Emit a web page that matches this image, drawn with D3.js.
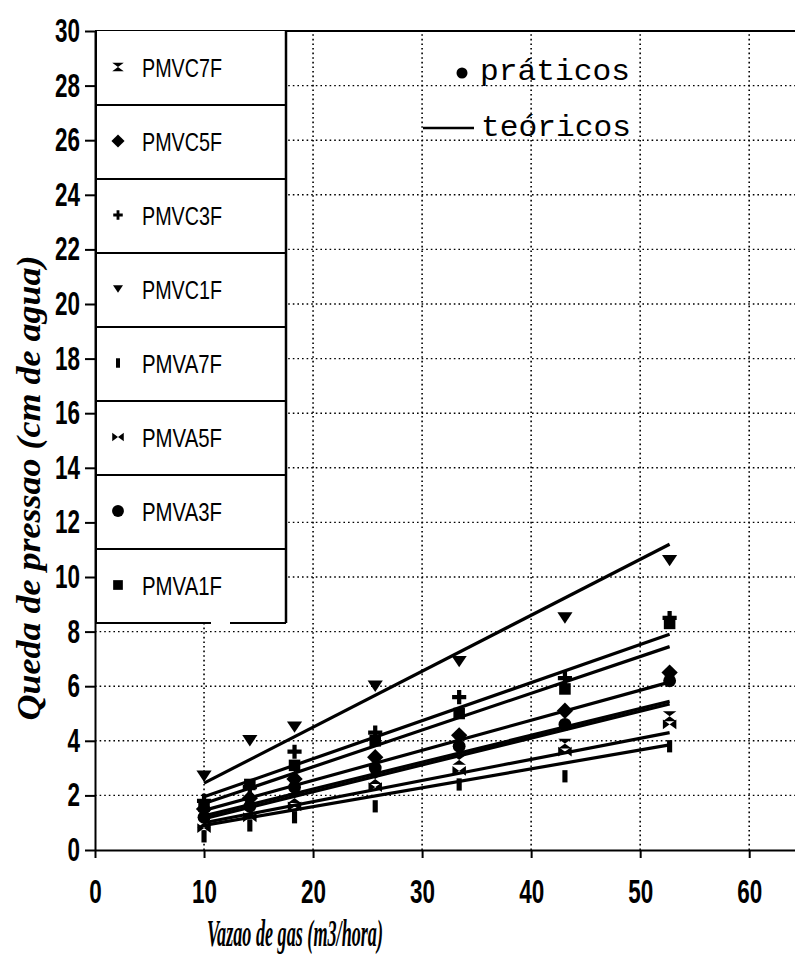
<!DOCTYPE html>
<html>
<head>
<meta charset="utf-8">
<script src="https://cdn.jsdelivr.net/npm/d3@7"></script>
<style>
  body { margin: 0; background: #fff; }
  svg { display: block; }
</style>
</head>
<body>
<div id="chart-area"></div>
<script>
var w = 795;
var h = 955;

// vazao de gas (m3/hora) dos pontos medidos
const flow = [10, 14.2, 18.3, 25.7, 33.4, 43.1, 52.7];

const names = ["PMVC7F", "PMVC5F", "PMVC3F", "PMVC1F", "PMVA7F", "PMVA5F", "PMVA3F", "PMVA1F"];

// valores praticos (cm de agua)
const pmvc7f = [1.0, 1.4, 1.9, 2.6, 3.3, 3.9, 4.9];
const pmvc5f = [1.5, 1.9, 2.6, 3.4, 4.2, 5.1, 6.5];
const pmvc3f = [1.8, 2.3, 3.6, 4.3, 5.6, 6.3, 8.5];
const pmvc1f = [2.7, 4.0, 4.5, 6.0, 6.9, 8.5, 10.6];
const pmva7f = [0.5, 0.9, 1.2, 1.6, 2.4, 2.7, 3.8];
const pmva5f = [0.8, 1.2, 1.6, 2.3, 2.9, 3.6, 4.6];
const pmva3f = [1.2, 1.6, 2.3, 3.0, 3.8, 4.6, 6.2];
const pmva1f = [1.6, 2.4, 3.1, 4.0, 5.0, 5.9, 8.3];

// valores teoricos no inicio e no fim da reta
const teoFlow = [10, 52.7];
const teoStart = [1.15, 1.45, 1.95, 2.45, 0.9, 1.0, 1.25, 1.7];
const teoEnd   = [5.35, 6.15, 7.9, 11.2, 3.85, 4.3, 5.45, 7.45];

const xTicks = [0, 10, 20, 30, 40, 50, 60];
const yTicks = [0, 2, 4, 6, 8, 10, 12, 14, 16, 18, 20, 22, 24, 26, 28, 30];

const practical = [pmvc7f, pmvc5f, pmvc3f, pmvc1f, pmva7f, pmva5f, pmva3f, pmva1f];

// custom marker shapes
const hourglass = {
  draw: function(ctx, size) {
    var r = Math.sqrt(size) / 2, a = r * 1.1, b = r * 0.8;
    ctx.moveTo(-a, -b); ctx.lineTo(a, -b); ctx.lineTo(-a, b); ctx.lineTo(a, b); ctx.closePath();
  }
};
const bowtie = {
  draw: function(ctx, size) {
    var r = Math.sqrt(size) / 2, a = r * 1.1, b = r * 0.8;
    ctx.moveTo(-a, -b); ctx.lineTo(a, b); ctx.lineTo(a, -b); ctx.lineTo(-a, b); ctx.closePath();
  }
};
const bar = {
  draw: function(ctx, size) {
    var r = Math.sqrt(size) / 2;
    ctx.rect(-r * 0.42, -r, r * 0.84, r * 2);
  }
};
const triDown = {
  draw: function(ctx, size) {
    var r = Math.sqrt(size) / 2;
    ctx.moveTo(-r, -r * 0.75); ctx.lineTo(r, -r * 0.75); ctx.lineTo(0, r * 0.75); ctx.closePath();
  }
};
const plus = {
  draw: function(ctx, size) {
    var r = Math.sqrt(size) / 2, t = r * 0.3;
    ctx.rect(-t, -r, 2 * t, 2 * r);
    ctx.rect(-r, -t, 2 * r, 2 * t);
  }
};

const shapes = [hourglass, d3.symbolDiamond2, plus, triDown, bar, bowtie, d3.symbolCircle, d3.symbolSquare2];
const dataSize = [150, 170, 200, 230, 150, 150, 130, 170];
const legSize = [110, 110, 90, 100, 90, 110, 110, 120];

var svg = d3.select("#chart-area").append("svg")
    .attr("width", w)
    .attr("height", h)
    .style("background-color", "#ffffff");

var x = d3.scaleLinear().domain([0, 64.2]).range([95, 795]);
var y = d3.scaleLinear().domain([0, 30]).range([850, 31]);

const sans = "'Liberation Sans', Arial, sans-serif";
const serif = "'Liberation Serif', 'DejaVu Serif', serif";
const mono = "'Liberation Mono', 'DejaVu Sans Mono', monospace";

// grid
svg.append("g").selectAll("line")
    .data(xTicks.slice(1))
    .enter().append("line")
    .attr("x1", d => x(d)).attr("x2", d => x(d))
    .attr("y1", y(0)).attr("y2", y(30))
    .attr("stroke", "#000").attr("stroke-width", 1.6)
    .attr("stroke-dasharray", "1.6,3");

svg.append("g").selectAll("line")
    .data(yTicks.slice(1, -1))
    .enter().append("line")
    .attr("x1", x(0)).attr("x2", 795)
    .attr("y1", d => y(d)).attr("y2", d => y(d))
    .attr("stroke", "#000").attr("stroke-width", 1.4)
    .attr("stroke-dasharray", "1.6,3");

// top frame line
svg.append("line")
    .attr("x1", x(0)).attr("x2", 795)
    .attr("y1", y(30)).attr("y2", y(30))
    .attr("stroke", "#000").attr("stroke-width", 2);

// theoretical lines
names.forEach(function(n, i) {
  var pts = teoFlow.map((f, j) => [f, j === 0 ? teoStart[i] : teoEnd[i]]);
  svg.append("path")
      .datum(pts)
      .attr("fill", "none")
      .attr("stroke", "#000")
      .attr("stroke-width", 3.2)
      .attr("d", d3.line().x(d => x(d[0])).y(d => y(d[1])));
});

// practical points
names.forEach(function(n, i) {
  svg.append("g").selectAll("path")
      .data(practical[i])
      .enter().append("path")
      .attr("transform", (d, j) => "translate(" + x(flow[j]) + "," + y(d) + ")")
      .attr("d", d3.symbol().type(shapes[i]).size(dataSize[i]))
      .attr("fill", "#000");
});

// axes
var yAxis = svg.append("g")
    .attr("transform", "translate(" + x(0) + ",0)")
    .call(d3.axisLeft(y).tickValues(yTicks).tickSize(10).tickSizeOuter(0).tickPadding(5));
yAxis.selectAll("text")
    .style("font-family", sans)
    .style("font-size", "33px")
    .style("font-weight", "bold")
    .attr("fill", "#000")
    .attr("textLength", d => String(d).length * 12.5)
    .attr("lengthAdjust", "spacingAndGlyphs");

var xAxis = svg.append("g")
    .attr("transform", "translate(0," + y(0) + ")")
    .call(d3.axisBottom(x).tickValues(xTicks).tickSize(8).tickSizeOuter(0).tickPadding(21));
xAxis.selectAll("text")
    .style("font-family", sans)
    .style("font-size", "34px")
    .style("font-weight", "bold")
    .attr("fill", "#000")
    .attr("textLength", d => String(d).length * 12.5)
    .attr("lengthAdjust", "spacingAndGlyphs");

svg.selectAll(".domain").attr("stroke", "#000").attr("stroke-width", 2);
svg.selectAll(".tick line").attr("stroke", "#000").attr("stroke-width", 2);

// legend box
var legX = 96, legY = y(30), legW = 190, rowH = 74;
var legend = svg.append("g");
legend.append("rect")
    .attr("x", legX).attr("y", legY)
    .attr("width", legW).attr("height", rowH * names.length)
    .attr("fill", "#fff").attr("stroke", "none");
legend.selectAll(".row")
    .data(names.slice(0, -1))
    .enter().append("line")
    .attr("x1", legX).attr("x2", legX + legW)
    .attr("y1", (d, i) => legY + rowH * (i + 1)).attr("y2", (d, i) => legY + rowH * (i + 1))
    .attr("stroke", "#000").attr("stroke-width", 1.8);
// bottom edge has a small break in it
legend.selectAll(".bottom")
    .data([[legX, 211], [230, legX + legW]])
    .enter().append("line")
    .attr("x1", d => d[0]).attr("x2", d => d[1])
    .attr("y1", legY + rowH * names.length).attr("y2", legY + rowH * names.length)
    .attr("stroke", "#000").attr("stroke-width", 2);
legend.append("line")
    .attr("x1", legX + legW).attr("x2", legX + legW)
    .attr("y1", legY).attr("y2", legY + rowH * names.length)
    .attr("stroke", "#000").attr("stroke-width", 2.5);
legend.append("line")
    .attr("x1", legX).attr("x2", legX)
    .attr("y1", legY).attr("y2", legY + rowH * names.length)
    .attr("stroke", "#000").attr("stroke-width", 2);
legend.selectAll(".mk")
    .data(names)
    .enter().append("path")
    .attr("transform", (d, i) => "translate(" + (legX + 22) + "," + (legY + rowH * i + 36) + ")")
    .attr("d", (d, i) => d3.symbol().type(shapes[i]).size(legSize[i])())
    .attr("fill", "#000");
legend.selectAll(".lb")
    .data(names)
    .enter().append("text")
    .attr("x", legX + 46)
    .attr("y", (d, i) => legY + rowH * i + 46)
    .style("font-family", sans)
    .style("font-size", "26px")
    .attr("fill", "#000")
    .attr("textLength", 80)
    .attr("lengthAdjust", "spacingAndGlyphs")
    .text(d => d);

// annotation
svg.append("circle").attr("cx", 462).attr("cy", 73).attr("r", 5.5).attr("fill", "#000");
svg.append("text")
    .attr("x", 480).attr("y", 80)
    .style("font-family", mono)
    .style("font-size", "30px")
    .attr("fill", "#000")
    .attr("textLength", 150)
    .attr("lengthAdjust", "spacingAndGlyphs")
    .text("práticos");
svg.append("line")
    .attr("x1", 423).attr("x2", 474).attr("y1", 128).attr("y2", 128)
    .attr("stroke", "#000").attr("stroke-width", 2.5);
svg.append("text")
    .attr("x", 481).attr("y", 136)
    .style("font-family", mono)
    .style("font-size", "30px")
    .attr("fill", "#000")
    .attr("textLength", 150)
    .attr("lengthAdjust", "spacingAndGlyphs")
    .text("teóricos");

// axis titles
svg.append("text")
    .attr("x", 295).attr("y", 946)
    .attr("text-anchor", "middle")
    .style("font-family", serif)
    .style("font-style", "italic")
    .style("font-weight", "bold")
    .style("font-size", "37px")
    .attr("fill", "#000")
    .attr("textLength", 176)
    .attr("lengthAdjust", "spacingAndGlyphs")
    .text("Vazao de gas (m3/hora)");

svg.append("text")
    .attr("transform", "translate(40,488) rotate(-90)")
    .attr("text-anchor", "middle")
    .style("font-family", serif)
    .style("font-style", "italic")
    .style("font-weight", "bold")
    .style("font-size", "34px")
    .attr("fill", "#000")
    .attr("textLength", 465)
    .attr("lengthAdjust", "spacingAndGlyphs")
    .text("Queda de pressao (cm de agua)");
</script>
</body>
</html>
